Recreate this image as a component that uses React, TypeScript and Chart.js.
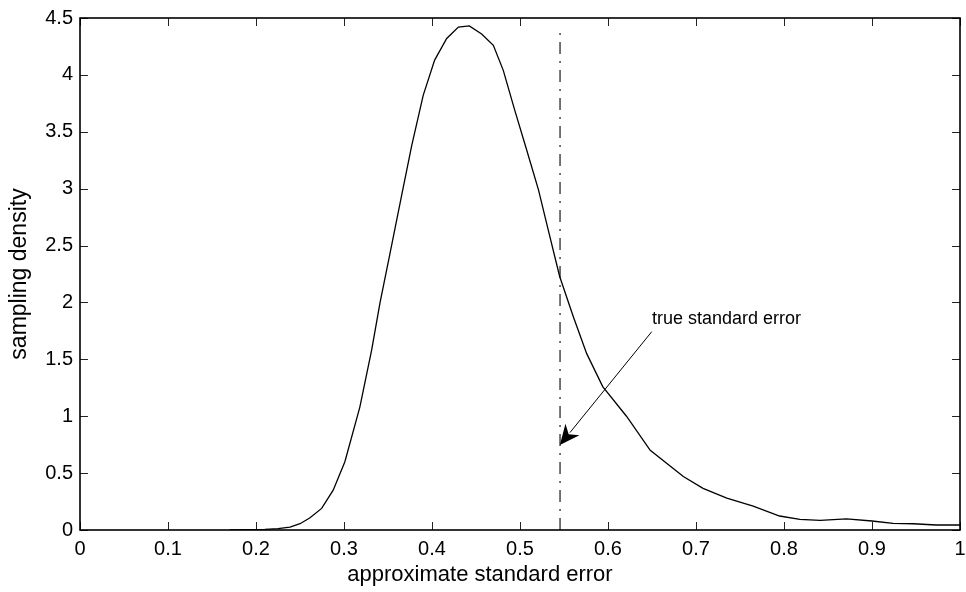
import React, { useEffect, useRef } from 'react';
import { Chart, registerables } from 'chart.js';

Chart.register(...registerables);

// ---- data ----
const densityX = [
  0.17, 0.19, 0.21, 0.225, 0.2386, 0.25, 0.261, 0.2746, 0.2877, 0.301,
  0.318, 0.3314, 0.341, 0.352, 0.3655, 0.377, 0.39, 0.403, 0.4167, 0.43,
  0.4424, 0.4564, 0.4697, 0.481, 0.494, 0.5076, 0.521, 0.532, 0.545, 0.5606,
  0.5758, 0.594, 0.621, 0.648, 0.6856, 0.708, 0.735, 0.765, 0.795, 0.818,
  0.841, 0.871, 0.9, 0.924, 0.947, 0.973, 1.0,
];
const densityY = [
  0.0, 0.002, 0.006, 0.012, 0.026, 0.055, 0.105, 0.19, 0.35, 0.6,
  1.08, 1.58, 2.0, 2.42, 2.94, 3.38, 3.82, 4.13, 4.32, 4.42,
  4.43, 4.36, 4.26, 4.04, 3.69, 3.34, 2.99, 2.64, 2.23, 1.875,
  1.55, 1.26, 1.0, 0.7, 0.47, 0.366, 0.28, 0.21, 0.123, 0.094,
  0.085, 0.097, 0.079, 0.059, 0.055, 0.044, 0.044,
];
const trueSE = 0.5455;
const trueLineY = [0, 4.38];
const xTicks = [0, 0.1, 0.2, 0.3, 0.4, 0.5, 0.6, 0.7, 0.8, 0.9, 1];
const yTicks = [0, 0.5, 1, 1.5, 2, 2.5, 3, 3.5, 4, 4.5];
const xTitle = 'approximate standard error';
const yTitle = 'sampling density';
const annotationText = 'true standard error';
const annotationAt = [0.65, 1.81];
const arrowFrom = [0.6497, 1.743];
const arrowTo = [0.5453, 0.747];

const FONT = "'Liberation Sans', Arial, Helvetica, sans-serif";

const framePlugin = {
  id: 'matlabFrame',
  afterDatasetsDraw(chart: any) {
    const { ctx, chartArea, scales } = chart;
    const { left, right, top, bottom } = chartArea;
    const xs = scales.x;
    const ys = scales.y;
    ctx.save();
    // inward ticks on all four sides
    ctx.strokeStyle = '#222';
    ctx.lineWidth = 1;
    const tl = 8;
    ctx.beginPath();
    for (const v of xTicks) {
      const px = Math.round(xs.getPixelForValue(v)) + 0.5;
      ctx.moveTo(px, bottom);
      ctx.lineTo(px, bottom - tl);
      ctx.moveTo(px, top);
      ctx.lineTo(px, top + tl);
    }
    for (const v of yTicks) {
      const py = Math.round(ys.getPixelForValue(v)) + 0.5;
      ctx.moveTo(left, py);
      ctx.lineTo(left + tl, py);
      ctx.moveTo(right, py);
      ctx.lineTo(right - tl, py);
    }
    ctx.stroke();
    // box
    ctx.strokeStyle = '#000';
    ctx.lineWidth = 1.6;
    ctx.strokeRect(left, top, right - left, bottom - top);

    // annotation text
    ctx.fillStyle = '#000';
    ctx.font = `18px ${FONT}`;
    ctx.textAlign = 'left';
    ctx.textBaseline = 'alphabetic';
    ctx.fillText(
      annotationText,
      xs.getPixelForValue(annotationAt[0]),
      ys.getPixelForValue(annotationAt[1])
    );

    // arrow
    const x0 = xs.getPixelForValue(arrowFrom[0]);
    const y0 = ys.getPixelForValue(arrowFrom[1]);
    const x1 = xs.getPixelForValue(arrowTo[0]);
    const y1 = ys.getPixelForValue(arrowTo[1]);
    const dx = x1 - x0;
    const dy = y1 - y0;
    const len = Math.hypot(dx, dy);
    const ux = dx / len;
    const uy = dy / len;
    const hl = 20;
    const hw = 9;
    const bx = x1 - ux * hl;
    const by = y1 - uy * hl;
    ctx.strokeStyle = '#000';
    ctx.lineWidth = 1;
    ctx.beginPath();
    ctx.moveTo(x0, y0);
    ctx.lineTo(bx + ux * 4, by + uy * 4);
    ctx.stroke();
    ctx.beginPath();
    ctx.moveTo(x1, y1);
    ctx.lineTo(bx - uy * hw, by + ux * hw);
    ctx.lineTo(bx + ux * 6, by + uy * 6);
    ctx.lineTo(bx + uy * hw, by - ux * hw);
    ctx.closePath();
    ctx.fill();

    // x axis title (centred as in the reference)
    ctx.font = `22px ${FONT}`;
    ctx.textAlign = 'center';
    ctx.textBaseline = 'middle';
    ctx.fillText(xTitle, 480, 575);
    ctx.restore();
  },
};

export default function App() {
  const canvasRef = useRef<HTMLCanvasElement | null>(null);

  useEffect(() => {
    document.body.style.margin = '0';
    const canvas = canvasRef.current;
    if (!canvas) return;
    const chart = new Chart(canvas, {
      type: 'scatter',
      data: {
        datasets: [
          {
            label: 'density',
            data: densityX.map((x, i) => ({ x, y: densityY[i] })),
            showLine: true,
            borderColor: '#000',
            borderWidth: 1.3,
            pointRadius: 0,
            tension: 0,
          },
          {
            label: 'true',
            data: trueLineY.map((y) => ({ x: trueSE, y })),
            showLine: true,
            borderColor: '#1a1a1a',
            borderWidth: 1.2,
            borderDash: [12, 7, 2, 7],
            pointRadius: 0,
          },
        ],
      },
      options: {
        animation: false,
        responsive: false,
        devicePixelRatio: 1,
        layout: { padding: { top: 18, right: 6, left: 0, bottom: 0 } },
        plugins: {
          legend: { display: false },
          tooltip: { enabled: false },
        },
        events: [],
        scales: {
          x: {
            type: 'linear',
            min: 0,
            max: 1,
            afterBuildTicks: (s: any) => {
              s.ticks = xTicks.map((value) => ({ value }));
            },
            afterFit: (s: any) => {
              s.height = 62;
              s.paddingLeft = 0;
              s.paddingRight = 0;
            },
            grid: { display: false, drawTicks: false },
            border: { display: false },
            ticks: {
              padding: 7,
              color: '#000',
              font: { family: FONT, size: 20 },
              maxRotation: 0,
              callback: (v: any) => String(Math.round(Number(v) * 10) / 10),
            },
          },
          y: {
            type: 'linear',
            min: 0,
            max: 4.5,
            afterBuildTicks: (s: any) => {
              s.ticks = yTicks.map((value) => ({ value }));
            },
            afterFit: (s: any) => {
              s.width = 80;
              s.paddingTop = 0;
              s.paddingBottom = 0;
            },
            grid: { display: false, drawTicks: false },
            border: { display: false },
            ticks: {
              padding: 7,
              color: '#000',
              font: { family: FONT, size: 20 },
              callback: (v: any) => String(Math.round(Number(v) * 10) / 10),
            },
            title: {
              display: true,
              text: yTitle,
              color: '#000',
              font: { family: FONT, size: 23 },
              padding: { top: 6, bottom: 0 },
            },
          },
        },
      },
      plugins: [framePlugin],
    });
    return () => chart.destroy();
  }, []);

  return (
    <div style={{ position: 'relative', width: 966, height: 592, background: '#fff' }}>
      <canvas ref={canvasRef} width={966} height={592} style={{ display: 'block' }} />
    </div>
  );
}
